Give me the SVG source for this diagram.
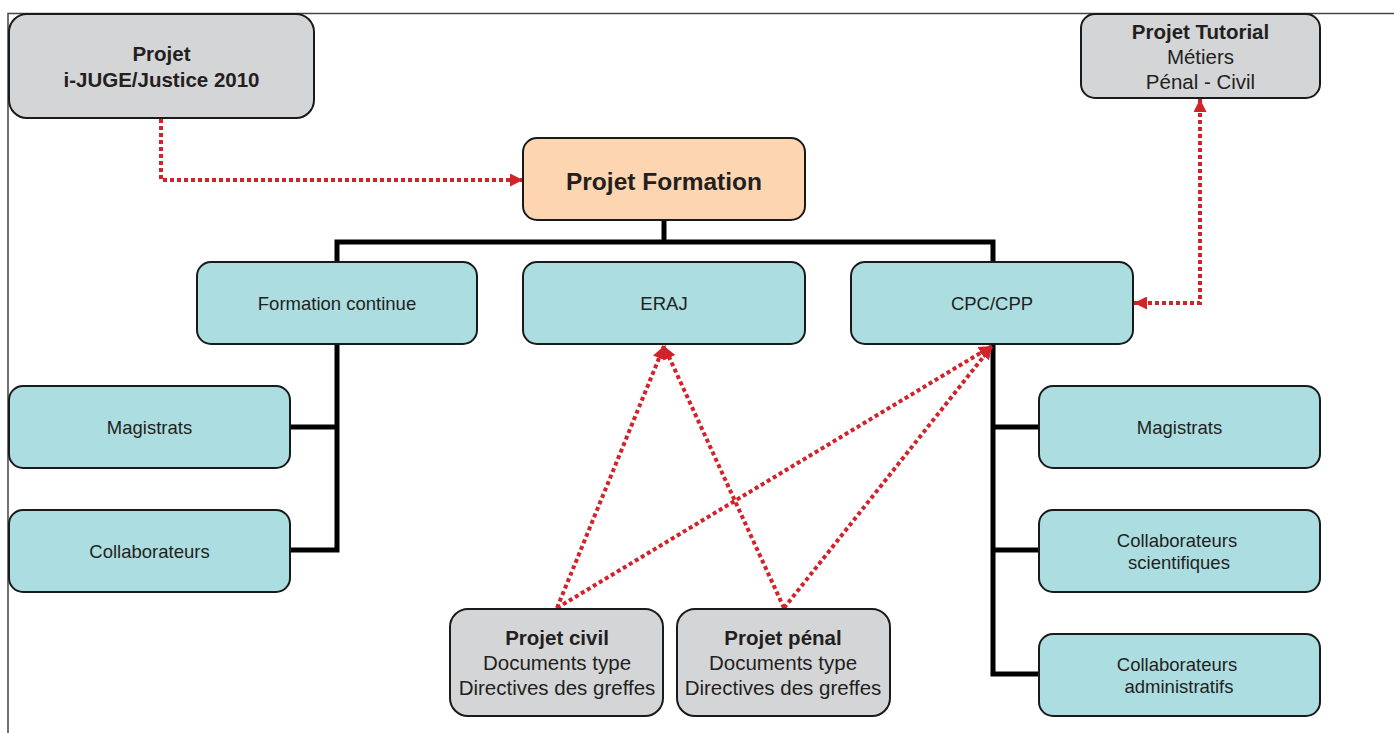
<svg xmlns="http://www.w3.org/2000/svg" width="1394" height="733" viewBox="0 0 1394 733">
<style>
.box{stroke:#1a1a1a;stroke-width:2}
.gray{fill:#d4d5d7}
.teal{fill:#acdde0}
.peach{fill:#fdd5b1}
text{font-family:"Liberation Sans",Arial,Helvetica,sans-serif;fill:#231f20;text-anchor:middle}
.r{font-size:18.5px}
.m{font-size:20.5px}
.b{font-weight:bold}
.tree{stroke:#000;stroke-width:5;fill:none}
.dot{stroke:#d2232a;stroke-width:4;stroke-dasharray:4 3;fill:none}
</style>
<defs>
<marker id="ah" viewBox="0 0 13 13" refX="13" refY="6.5" markerWidth="13" markerHeight="13" markerUnits="userSpaceOnUse" orient="auto-start-reverse">
<path d="M0 0 L13 6.5 L0 13 Z" fill="#d2232a"/>
</marker>
</defs>
<g id="frame" fill="none" stroke="#444" stroke-width="1.5">
<path d="M8 733 V13.5 H1394"/>
</g>
<g id="connectors">
<path class="tree" d="M664 220 V242 M337 262 V242 H993 V262 M337 344 V550 H290 M290 427 H337 M993 344 V674 H1039 M993 427 H1039 M993 550 H1039"/>
<path class="dot" d="M161 119 V180 H523" marker-end="url(#ah)"/>
<path class="dot" d="M1134 303 H1200 V99" marker-start="url(#ah)" marker-end="url(#ah)"/>
<path class="dot" d="M557 608 L664 346" marker-end="url(#ah)"/>
<path class="dot" d="M784 608 L664 346" marker-end="url(#ah)"/>
<path class="dot" d="M557 608 L992 346" marker-end="url(#ah)"/>
<path class="dot" d="M784 608 L992 346" marker-end="url(#ah)"/>
</g>
<g id="n-ijuge">
<rect class="box gray" x="9" y="14" width="305" height="104" rx="18"/>
<text class="m b" x="161.5" y="61">Projet</text>
<text class="m b" x="161.5" y="87">i-JUGE/Justice 2010</text>
</g>
<g id="n-tutorial">
<rect class="box gray" x="1081" y="14" width="239" height="84" rx="14"/>
<text class="m b" x="1200.5" y="39">Projet Tutorial</text>
<text class="m" x="1200.5" y="64">Métiers</text>
<text class="m" x="1200.5" y="89">Pénal - Civil</text>
</g>
<g id="n-formation">
<rect class="box peach" x="523" y="138" width="282" height="82" rx="14"/>
<text class="b" style="font-size:24.5px" x="664" y="189.5">Projet Formation</text>
</g>
<g id="n-continue">
<rect class="box teal" x="197" y="262" width="280" height="82" rx="14"/>
<text class="r" x="337" y="309.5">Formation continue</text>
</g>
<g id="n-eraj">
<rect class="box teal" x="523" y="262" width="282" height="82" rx="14"/>
<text class="r" x="664" y="309.5">ERAJ</text>
</g>
<g id="n-cpc">
<rect class="box teal" x="851" y="262" width="282" height="82" rx="14"/>
<text class="r" x="992" y="309.5">CPC/CPP</text>
</g>
<g id="n-mag-left">
<rect class="box teal" x="9" y="386" width="281" height="82" rx="14"/>
<text class="r" x="149.5" y="433.5">Magistrats</text>
</g>
<g id="n-collab-left">
<rect class="box teal" x="9" y="510" width="281" height="82" rx="14"/>
<text class="r" x="149.5" y="557.5">Collaborateurs</text>
</g>
<g id="n-mag-right">
<rect class="box teal" x="1039" y="386" width="281" height="82" rx="14"/>
<text class="r" x="1179.5" y="433.5">Magistrats</text>
</g>
<g id="n-collab-sci">
<rect class="box teal" x="1039" y="510" width="281" height="82" rx="14"/>
<text class="r" x="1177" y="546.5">Collaborateurs</text>
<text class="r" x="1179" y="568.5">scientifiques</text>
</g>
<g id="n-collab-adm">
<rect class="box teal" x="1039" y="634" width="281" height="82" rx="14"/>
<text class="r" x="1177" y="670.5">Collaborateurs</text>
<text class="r" x="1179" y="692.5">administratifs</text>
</g>
<g id="n-civil">
<rect class="box gray" x="450" y="609" width="213" height="107" rx="18"/>
<text class="m b" x="557" y="645">Projet civil</text>
<text class="m" x="557" y="670">Documents type</text>
<text class="m" x="557" y="695">Directives des greffes</text>
</g>
<g id="n-penal">
<rect class="box gray" x="677" y="609" width="213" height="107" rx="18"/>
<text class="m b" x="783" y="645">Projet pénal</text>
<text class="m" x="783" y="670">Documents type</text>
<text class="m" x="783" y="695">Directives des greffes</text>
</g>
</svg>
